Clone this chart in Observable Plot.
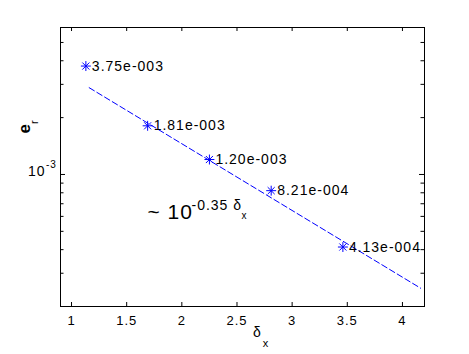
<!DOCTYPE html>
<html><head><meta charset="utf-8">
<script src="https://cdn.jsdelivr.net/npm/d3@7"></script>
<script src="https://cdn.jsdelivr.net/npm/@observablehq/plot@0.6"></script>
<style>
body{margin:0;background:#fff}
svg{font-family:"Liberation Sans",Arial,sans-serif}
svg text{letter-spacing:1px}
</style>
</head><body><div id="chart"></div>
<script>
const deltaX = [1.13, 1.69, 2.25, 2.81, 3.46];
const errR = [3.75e-3, 1.81e-3, 1.20e-3, 8.21e-4, 4.13e-4];
const errLabels = ["3.75e-003", "1.81e-003", "1.20e-003", "8.21e-004", "4.13e-004"];
const fitX = [1.16, 4.165];
const fitY = [2.88e-3, 2.5e-4];
const xTicks = [1, 1.5, 2, 2.5, 3, 3.5, 4];
const yMajor = [1e-3];
const yMinor = [3e-4, 4e-4, 5e-4, 6e-4, 7e-4, 8e-4, 9e-4, 2e-3, 3e-3, 4e-3, 5e-3];

const pts = deltaX.map((x, i) => ({x, y: errR[i], label: errLabels[i]}));
const fit = fitX.map((x, i) => ({x, y: fitY[i]}));

const W = 469, H = 354, mL = 60, mR = 45, mT = 27, mB = 48;
const innerW = W - mL - mR, innerH = H - mT - mB;
const blue = "#0000ff";

const chart = Plot.plot({
  width: W, height: H,
  marginLeft: mL, marginRight: mR, marginTop: mT, marginBottom: mB,
  x: {domain: [0.9, 4.2], axis: null},
  y: {type: "log", domain: [2e-4, 6e-3], axis: null},
  style: {background: "#fff", color: "#000"},
  marks: [
    // ticks (inward, all four sides)
    Plot.ruleX(xTicks, {x: d => d, insetTop: innerH - 4, stroke: "#000"}),
    Plot.ruleX(xTicks, {x: d => d, insetBottom: innerH - 4, stroke: "#000"}),
    Plot.ruleY(yMajor, {y: d => d, insetRight: innerW - 5, stroke: "#000"}),
    Plot.ruleY(yMajor, {y: d => d, insetLeft: innerW - 5, stroke: "#000"}),
    Plot.ruleY(yMinor, {y: d => d, insetRight: innerW - 3.5, stroke: "#000"}),
    Plot.ruleY(yMinor, {y: d => d, insetLeft: innerW - 3.5, stroke: "#000"}),
    Plot.frame({stroke: "#000", strokeWidth: 1}),
    // x tick labels
    Plot.text(xTicks, {x: d => d, frameAnchor: "bottom", lineAnchor: "top", dy: 9, fontSize: 13, text: d => String(d), fill: "#000"}),
    // y tick label 10^-3
    Plot.text(yMajor, {y: d => d, frameAnchor: "left", textAnchor: "end", dx: -15, dy: -2.5, fontSize: 14, text: () => "10", fill: "#000"}),
    Plot.text(yMajor, {y: d => d, frameAnchor: "left", textAnchor: "start", dx: -14.5, dy: -9.5, fontSize: 10, text: () => "-3", fill: "#000"}),
    // fit line
    Plot.line(fit, {x: "x", y: "y", stroke: blue, strokeWidth: 1, strokeDasharray: "6,3"}),
    // data stars
    Plot.dot(pts, {x: "x", y: "y", symbol: "plus", r: 3.3, stroke: blue, strokeWidth: 1}),
    Plot.dot(pts, {x: "x", y: "y", symbol: "times", r: 3.3, stroke: blue, strokeWidth: 1}),
    Plot.text(pts, {x: "x", y: "y", text: "label", textAnchor: "start", dx: 6, fontSize: 14, fill: "#000"}),
    // annotation ~ 10^{-0.35 δx}
    Plot.text([0], {frameAnchor: "top-left", dx: 87, dy: 177, text: () => "~ 10", fontSize: 21, textAnchor: "start", fill: "#000"}),
    Plot.text([0], {frameAnchor: "top-left", dx: 131, dy: 173, text: () => "-0.35 δ", fontSize: 14, textAnchor: "start", fill: "#000"}),
    Plot.text([0], {frameAnchor: "top-left", dx: 181, dy: 184, text: () => "x", fontSize: 10, textAnchor: "start", fill: "#000"}),
    // axis labels
    Plot.text([0], {frameAnchor: "bottom", dx: 15, dy: 30, text: () => "δ", fontSize: 14, fill: "#000"}),
    Plot.text([0], {frameAnchor: "bottom", dx: 23.5, dy: 40, text: () => "x", fontSize: 11, fill: "#000"}),
    Plot.text([0], {frameAnchor: "left", dx: -35.5, dy: -33.5, rotate: -90, text: () => "e", fontSize: 17, fontWeight: "bold", fill: "#000"}),
    Plot.text([0], {frameAnchor: "left", dx: -26, dy: -43, rotate: -90, text: () => "r", fontSize: 11, fill: "#000"})
  ]
});
document.getElementById("chart").appendChild(chart);
</script>
</body></html>
